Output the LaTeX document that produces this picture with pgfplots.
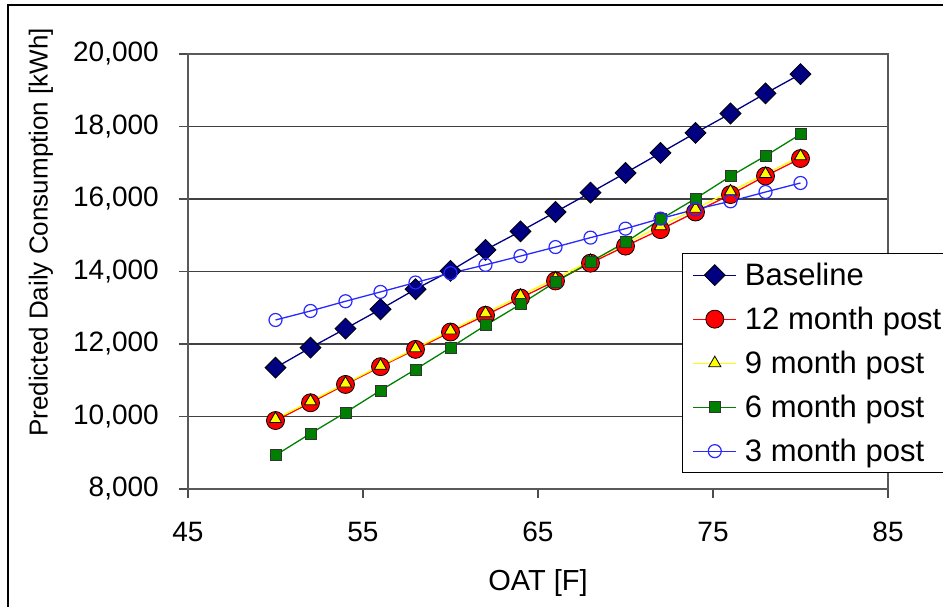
\documentclass[border=0pt]{standalone}
\usepackage{fontspec}
\setmainfont{Liberation Sans}
\usepackage{pgfplots}
\pgfplotsset{compat=1.18}
\definecolor{navyb}{RGB}{0,0,128}
\definecolor{redb}{RGB}{255,0,0}
\definecolor{yellowb}{RGB}{255,255,0}
\definecolor{greenb}{RGB}{0,128,0}
\definecolor{blueb}{RGB}{40,40,255}
\begin{document}
\begin{tikzpicture}[x=1pt,y=1pt]
\draw[black, line width=1.5pt] (8,-20) -- (8,602) -- (980,602);
\begin{axis}[
  at={(188pt,118pt)}, anchor=south west,
  scale only axis, width=700pt, height=435pt,
  xmin=45, xmax=85, ymin=8000, ymax=20000,
  xtick={45,55,65,75,85}, ytick={8000,10000,12000,14000,16000,18000,20000},
  xtick pos=bottom, ytick pos=left,
  tick align=outside, major tick length=9pt,
  tick style={black!70, line width=1.2pt},
  axis line style={black!65, line width=1.8pt},
  ymajorgrids, grid style={black!75, line width=1.3pt},
  scaled y ticks=false,
  /pgf/number format/assume math mode=true,
  ticklabel style={font=\fontsize{28}{28}\selectfont, inner sep=0pt},
  yticklabel style={xshift=-20pt},
  xticklabel style={yshift=-24pt},
  xlabel={OAT [F]}, ylabel={Predicted Daily Consumption [kWh]},
  xlabel style={font=\fontsize{29}{29}\selectfont, at={(rel axis cs:0.5,-0.216)}, anchor=center},
  ylabel style={font=\fontsize{26}{26}\selectfont, at={(rel axis cs:-0.21,0.59)}, anchor=center},
  legend style={at={(rel axis cs:0.7057,0.5425)}, anchor=north west,
    draw=black, line width=1.3pt, fill=white,
    font=\fontsize{31}{31}\selectfont,
    inner xsep=10pt, inner ysep=7pt, row sep=15pt,
    nodes={inner sep=0pt, text height=25pt, text depth=4pt},
    /tikz/every odd column/.append style={column sep=8pt}},
  legend cell align=left,
  legend image code/.code={\draw[mark repeat=2,mark phase=2,#1] plot coordinates {(0pt,0pt)(21.5pt,0pt)(43pt,0pt)};},
  clip=false,
]
\addplot[navyb, line width=1.3pt, mark=square*, mark size=7.4pt,
  mark options={rotate=45, fill=navyb, draw=black, line width=0.8pt}] coordinates {
(50,11346) (52,11899) (54,12424) (56,12958) (58,13511) (60,14017) (62,14597) (64,15108)
(66,15641) (68,16177) (70,16718) (72,17271) (74,17823) (76,18359) (78,18912) (80,19445)};
\addlegendentry{Baseline}
\addplot[redb, line width=1.3pt, mark=*, mark size=9pt,
  mark options={fill=redb, draw=black, line width=0.8pt}] coordinates {
(50,9889) (52,10378) (54,10884) (56,11374) (58,11852) (60,12330) (62,12792) (64,13270)
(66,13740) (68,14230) (70,14700) (72,15155) (74,15641) (76,16122) (78,16635) (80,17116)};
\addlegendentry{12 month post}
\addplot[yellowb, line width=1.3pt, mark=triangle*, mark size=7pt,
  mark options={fill=yellowb, draw=black, line width=0.8pt}] coordinates {
(50,9930) (52,10420) (54,10910) (56,11400) (58,11880) (60,12370) (62,12850) (64,13330)
(66,13810) (68,14290) (70,14770) (72,15250) (74,15730) (76,16210) (78,16690) (80,17180)};
\addlegendentry{9 month post}
\addplot[greenb, line width=1.3pt, mark=square*, mark size=5.5pt,
  mark options={fill=greenb, draw=black!80, line width=0.8pt}] coordinates {
(50,8930) (52,9530) (54,10110) (56,10718) (58,11299) (60,11899) (62,12515) (64,13096)
(66,13712) (68,14266) (70,14806) (72,15439) (74,16011) (76,16627) (78,17188) (80,17787)};
\addlegendentry{6 month post}
\addplot[blueb, line width=1.3pt, mark=o, mark size=6.5pt,
  mark options={draw=blueb, line width=1.2pt}] coordinates {
(50,12662) (52,12911) (54,13179) (56,13436) (58,13696) (60,13953) (62,14183) (64,14426)
(66,14674) (68,14934) (70,15182) (72,15459) (74,15715) (76,15936) (78,16193) (80,16442)};
\addlegendentry{3 month post}
\end{axis}
\pgfresetboundingbox
\useasboundingbox (0,0) rectangle (943,607);
\end{tikzpicture}
\end{document}
